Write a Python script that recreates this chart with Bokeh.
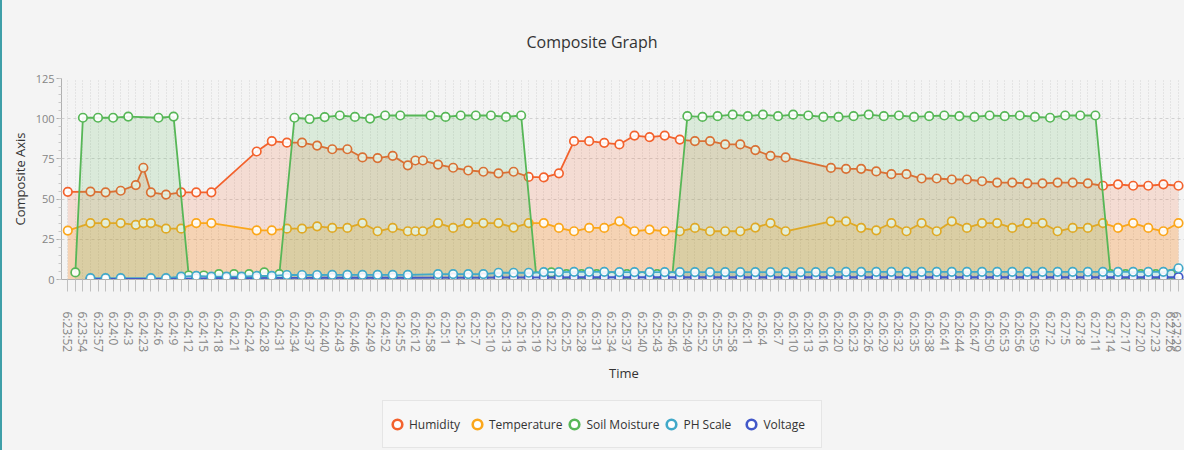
import math
from bokeh.plotting import figure
from bokeh.layouts import column
from bokeh.models import Range1d, FixedTicker, SingleIntervalTicker, Legend, LegendItem, Title
from bokeh.embed import file_html
from bokeh.resources import INLINE

# Category labels shown on the time axis (every other category is unlabeled)
time_labels = ["6:23:52", "6:23:54", "6:23:57", "6:24:0", "6:24:3", "6:24:23", "6:24:6", "6:24:9",
               "6:24:12", "6:24:15", "6:24:18", "6:24:21", "6:24:24", "6:24:28", "6:24:31", "6:24:34",
               "6:24:37", "6:24:40", "6:24:43", "6:24:46", "6:24:49", "6:24:52", "6:24:55", "6:26:12",
               "6:24:58", "6:25:1", "6:25:4", "6:25:7", "6:25:10", "6:25:13", "6:25:16", "6:25:19",
               "6:25:22", "6:25:25", "6:25:28", "6:25:31", "6:25:34", "6:25:37", "6:25:40", "6:25:43",
               "6:25:46", "6:25:49", "6:25:52", "6:25:55", "6:25:58", "6:26:1", "6:26:4", "6:26:7",
               "6:26:10", "6:26:13", "6:26:16", "6:26:20", "6:26:23", "6:26:26", "6:26:29", "6:26:32",
               "6:26:35", "6:26:38", "6:26:41", "6:26:44", "6:26:47", "6:26:50", "6:26:53", "6:26:56",
               "6:26:59", "6:27:2", "6:27:5", "6:27:8", "6:27:11", "6:27:14", "6:27:17", "6:27:20",
               "6:27:23", "6:27:26", "6:27:29"]
n_categories = 149

# Sample indices (category positions) of humidity / temperature readings
hum_slots = [0, 3, 5, 7, 9, 10, 11, 13, 15, 17, 19,
             25, 27, 29, 31, 33, 35, 37, 39, 41, 43, 45, 46,
             47, 49, 51, 53, 55, 57, 59, 61, 63, 65, 67, 69, 71, 73, 75, 77, 79, 81, 83, 85, 87, 89, 91, 93, 95,
             101, 103, 105, 107, 109, 111, 113, 115, 117, 119, 121, 123, 125, 127, 129, 131, 133, 135, 137,
             139, 141, 143, 145, 147]
humidity = [54.5, 54.7, 54.2, 55.2, 58.7, 69.5, 54.2, 52.8, 54.2, 54.2, 54.2,
            79.6, 86.1, 85.1, 85.1, 83.3, 81.0, 81.0, 75.9, 75.5, 76.9, 71.0, 74.0,
            74.0, 71.5, 69.5, 67.8, 67.0, 66.0, 67.0, 63.8, 63.5, 66.0, 86.0, 86.0, 85.0, 84.0, 89.5, 88.5,
            89.5, 87.0, 86.1, 86.1, 84.0, 84.0, 80.5, 76.9, 75.9,
            69.4, 68.8, 68.8, 67.2, 65.5, 65.5, 62.8, 62.8, 62.2, 62.2, 61.1, 60.3, 60.3, 59.8, 59.8, 60.3,
            60.3, 59.8, 58.3, 59.2, 58.3, 58.3, 59.2, 58.3]
temperature = [30.4, 35.1, 35.1, 35.1, 34.0, 35.1, 35.1, 31.6, 31.6, 35.1, 35.1,
               30.6, 30.6, 31.6, 31.6, 33.1, 32.1, 32.1, 35.1, 30.0, 32.1, 30.0, 30.0,
               30.0, 35.1, 32.1, 35.1, 35.1, 35.1, 32.3, 35.1, 35.1, 32.1, 30.0, 32.1, 32.1, 36.2, 30.0, 31.0,
               30.0, 30.0, 32.1, 30.0, 30.0, 30.0, 32.3, 35.1, 30.0,
               36.2, 36.2, 32.1, 30.6, 35.1, 30.0, 35.1, 30.0, 36.2, 32.1, 35.1, 35.1, 32.1, 35.1, 35.1, 30.0,
               32.1, 32.1, 35.1, 32.1, 35.1, 32.1, 30.0, 35.1]

soil_slots = [1, 2, 4, 6, 8, 12, 14, 16, 18, 20, 22, 24, 26, 28,
              30, 32, 34, 36, 38, 40, 42, 44, 48, 50, 52, 54, 56, 58, 60,
              62, 64, 66, 68, 70, 72, 74, 76, 78, 80,
              82, 84, 86, 88, 90, 92, 94, 96, 98, 100, 102, 104, 106, 108, 110, 112, 114, 116, 118, 120,
              122, 124, 126, 128, 130, 132, 134, 136,
              138, 140, 142, 144, 146]
soil_moisture = [4.4, 100.6, 100.6, 100.6, 101.3, 100.6, 101.3, 2.5, 2.5, 3.4, 3.4, 3.4, 4.4, 3.4,
                 100.6, 99.8, 101.0, 102.0, 101.1, 100.1, 102.0, 102.0, 102.0, 101.1, 102.0, 102.0, 102.0,
                 101.1, 102.0,
                 2.0, 4.4, 3.4, 3.4, 3.4, 2.0, 3.4, 2.0, 3.4, 2.0,
                 101.6, 101.1, 101.6, 102.5, 101.6, 102.5, 101.6, 102.5, 102.0, 101.1, 101.1, 101.6, 102.5,
                 101.6, 102.0, 101.1, 101.6, 102.0, 101.6, 101.1,
                 102.0, 101.6, 102.0, 101.1, 100.6, 102.0, 102.0, 102.0,
                 3.4, 3.4, 3.4, 3.4, 3.4]

ph_slots = [3, 5, 7, 11, 13, 15, 17, 19, 21, 23, 25, 27, 29, 31, 33, 35, 37, 39, 41, 43, 45,
            49, 51, 53, 55, 57, 59, 61, 63, 65, 67, 69, 71, 73, 75, 77, 79, 81, 83, 85, 87, 89, 91, 93, 95,
            97, 99, 101, 103, 105, 107, 109, 111, 113, 115, 117, 119, 121, 123, 125, 127, 129, 131, 133,
            135, 137, 139, 141, 143, 145, 147]
ph_scale = [0.8, 0.8, 0.8, 0.8, 0.8, 1.8, 2.2, 1.8, 1.8, 1.8, 2.2, 2.2, 2.8, 2.8, 2.8, 2.9, 2.9, 2.9,
            2.9, 2.9, 2.9,
            3.4, 3.4, 3.4, 3.4, 4.2, 4.2, 4.2, 4.6, 4.6, 4.8, 4.8, 4.8, 4.6, 4.6, 4.6, 4.6, 4.6, 4.6, 4.6,
            4.6, 4.6, 4.6, 4.6, 4.6, 4.6, 4.6, 4.8, 4.8, 4.8, 4.8, 4.8, 4.8, 4.8, 4.8, 4.8, 4.8, 4.8, 4.8,
            4.8, 4.8, 4.8, 4.8, 4.8, 4.8, 4.8, 4.8, 4.8, 4.8, 4.8, 7.0]
voltage = [0.3, 0.3, 0.3, 0.3, 0.3, 0.6, 0.7, 0.8, 0.8, 0.9, 0.9, 1.0, 1.0, 1.0, 1.1, 1.1, 1.1, 1.1,
           1.1, 1.1, 1.1,
           1.2, 1.2, 1.2, 1.2, 1.3, 1.3, 1.3, 1.3, 1.3, 1.4, 1.4, 1.4, 1.4, 1.4, 1.4, 1.4, 1.4, 1.4, 1.4,
           1.4, 1.4, 1.4, 1.4, 1.4, 1.4, 1.4, 1.4, 1.4, 1.4, 1.4, 1.4, 1.4, 1.4, 1.4, 1.4, 1.4, 1.4, 1.4,
           1.4, 1.4, 1.4, 1.4, 1.4, 1.4, 1.4, 1.4, 1.4, 1.4, 1.4, 1.5]

series_names = ["Humidity", "Temperature", "Soil Moisture", "PH Scale", "Voltage"]
colors = ["#f3622d", "#fba71b", "#57b757", "#41a9c9", "#4258c9"]

FONT = "Open Sans"
BG = "#f4f4f4"
EDGE = {"border-left": "2px solid #3e9fa8", "background-color": BG}

p = figure(width=1184, height=400, output_backend="svg", toolbar_location=None,
           x_range=Range1d(-0.834, 148.06), y_range=Range1d(0, 125),
           min_border_left=59, min_border_right=0, min_border_top=78, min_border_bottom=121,
           background_fill_color=BG, border_fill_color=BG, outline_line_color=None)
p.styles = EDGE

# Title
p.title.text = "Composite Graph"
p.title.align = "left"
p.title.offset = 465
p.title.vertical_align = "top"
p.title.text_font = FONT
p.title.text_font_size = "16px"
p.title.text_font_style = "normal"
p.title.text_color = "#333333"
p.title.standoff = 48

# X axis
cat_ticker = FixedTicker(ticks=list(range(n_categories)), minor_ticks=[])
overrides = {}
for i in range(n_categories):
    overrides[i] = time_labels[i // 2] if i % 2 == 0 else ""
xa = p.xaxis[0]
xa.ticker = cat_ticker
xa.major_label_overrides = overrides
xa.major_label_orientation = -math.pi / 2
xa.major_label_text_font = FONT
xa.major_label_text_font_size = "12px"
xa.major_label_text_color = "#858585"
xa.major_tick_out = 12
xa.major_tick_in = 0
xa.major_label_standoff = 20
xa.axis_line_color = "#b0b0b0"
xa.major_tick_line_color = "#c0c0c0"

time_title = Title(text="Time", align="center", vertical_align="middle", standoff=14,
                   text_font=FONT, text_font_size="13px", text_font_style="normal",
                   text_color="#333333")
p.add_layout(time_title, "below")

# Y axis
ya = p.yaxis[0]
ya.ticker = SingleIntervalTicker(interval=25, num_minor_ticks=5)
ya.major_label_text_font = FONT
ya.major_label_text_font_size = "11px"
ya.major_label_text_color = "#858585"
ya.major_tick_out = 5
ya.major_tick_in = 0
ya.minor_tick_out = 3
ya.minor_tick_in = 0
ya.major_label_standoff = 2
ya.axis_line_color = "#b0b0b0"
ya.major_tick_line_color = "#b0b0b0"
ya.minor_tick_line_color = "#c8c8c8"
ya.axis_label = "Composite Axis"
ya.axis_label_text_font = FONT
ya.axis_label_text_font_size = "13px"
ya.axis_label_text_font_style = "normal"
ya.axis_label_text_color = "#333333"
ya.axis_label_standoff = 4

# Grid
p.xgrid.ticker = cat_ticker
p.xgrid.grid_line_color = "#d4d4d4"
p.xgrid.grid_line_dash = "1 2"
p.ygrid.grid_line_color = "#d0d0d0"
p.ygrid.grid_line_dash = "3 3"

series = [
    (hum_slots, humidity),
    (hum_slots, temperature),
    (soil_slots, soil_moisture),
    (ph_slots, ph_scale),
    (ph_slots, voltage),
]

def draw_area(idx):
    xs, ys = series[idx]
    c = colors[idx]
    p.varea(x=xs, y1=[0] * len(xs), y2=ys, fill_color=c, fill_alpha=0.17)
    p.line(xs, ys, line_color=c, line_width=1.8)

def draw_marks(idx):
    xs, ys = series[idx]
    c = colors[idx]
    p.scatter(xs, ys, marker="circle", size=8.5, line_color=c, line_width=1.7,
              fill_color="white", fill_alpha=0.9)

for i in range(3):
    draw_area(i)
    draw_marks(i)
draw_area(3)
draw_area(4)
draw_marks(4)
draw_marks(3)

# Legend strip under the chart
lf = figure(width=1184, height=50, output_backend="svg", toolbar_location=None,
            x_range=Range1d(0, 1), y_range=Range1d(0, 1), x_axis_type=None, y_axis_type=None,
            min_border_left=0, min_border_right=0, min_border_top=0, min_border_bottom=0,
            background_fill_color=BG, border_fill_color=BG, outline_line_color=None)
lf.styles = EDGE
lf.grid.visible = False
keys = []
for i in range(5):
    # legend key glyphs (their point lies outside the strip's range, so only the key shows)
    r = lf.scatter([-1], [-1], marker="circle", size=10, line_color=colors[i], line_width=2.6,
                   fill_color="white")
    keys.append(r)

legend = Legend(items=[LegendItem(label=series_names[i], renderers=[keys[i]]) for i in range(5)],
                orientation="horizontal", location=(321, 2))
legend.glyph_width = 24
legend.glyph_height = 42
legend.label_standoff = 0
legend.label_width = 56
legend.spacing = 0
legend.padding = 2
legend.margin = 0
legend.label_text_font = FONT
legend.label_text_font_size = "12px"
legend.label_text_color = "#333333"
legend.background_fill_color = "#f7f7f7"
legend.background_fill_alpha = 1.0
legend.border_line_color = "#d3d3d3"
lf.add_layout(legend)

layout = column(p, lf, spacing=0)
layout.styles = {"background-color": BG}
open("out.html", "w").write(file_html(layout, INLINE))
